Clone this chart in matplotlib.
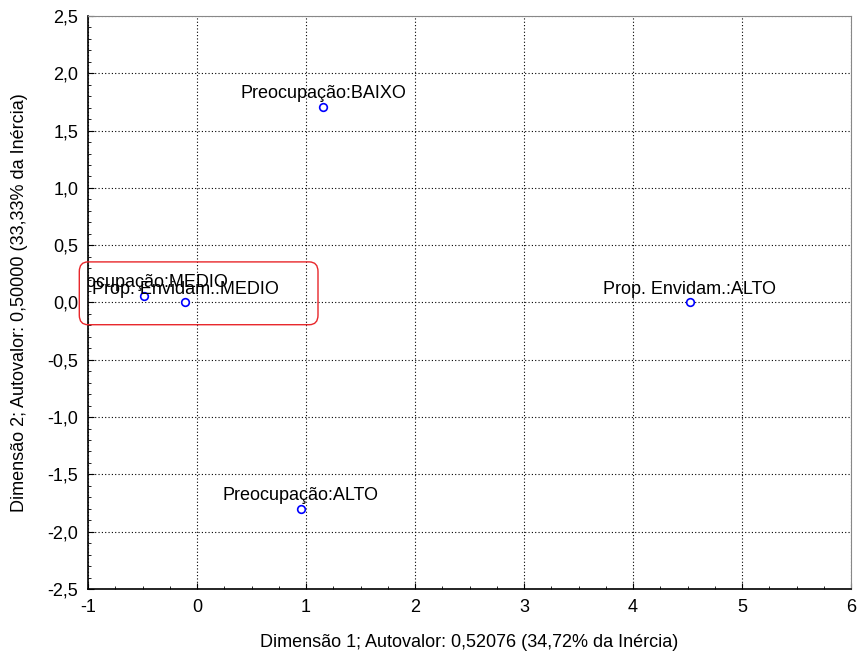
import numpy as np
import matplotlib
matplotlib.use('Agg')
import matplotlib.pyplot as plt
from matplotlib.patches import FancyBboxPatch
from matplotlib.ticker import MultipleLocator, FuncFormatter

# category coordinates
labels = ['Preocupação:BAIXO', 'Preocupação:MEDIO', 'Preocupação:ALTO',
          'Prop. Envidam.:MEDIO', 'Prop. Envidam.:ALTO']
dim1 = [1.16, -0.49, 0.95, -0.11, 4.52]
dim2 = [1.705, 0.06, -1.80, 0.0, 0.0]

plt.rcParams['font.family'] = ['Liberation Sans', 'DejaVu Sans']

fig = plt.figure(figsize=(8.57, 6.55), dpi=100)
ax = fig.add_axes([0.1027, 0.1008, 0.8903, 0.8748])

ax.plot(dim1, dim2, linestyle='none', marker='o', markersize=5.5,
        markerfacecolor='white', markeredgecolor='#0000ff', markeredgewidth=1.2, zorder=3)

for lab, x, y in zip(labels, dim1, dim2):
    ax.annotate(lab, (x, y), xytext=(0, 3.5), textcoords='offset points',
                ha='center', va='bottom', fontsize=13, color='black',
                annotation_clip=False, clip_on=True)

ax.set_xlim(-1, 6)
ax.set_ylim(-2.5, 2.5)
ax.xaxis.set_major_locator(MultipleLocator(1))
ax.xaxis.set_minor_locator(MultipleLocator(0.25))
ax.yaxis.set_major_locator(MultipleLocator(0.5))
ax.yaxis.set_minor_locator(MultipleLocator(0.1))
ax.yaxis.set_major_formatter(FuncFormatter(lambda v, p: '{:.1f}'.format(v).replace('.', ',')))
ax.xaxis.set_major_formatter(FuncFormatter(lambda v, p: '{:.0f}'.format(v)))

ax.tick_params(which='both', direction='in', labelsize=13)
ax.tick_params(which='major', length=4, pad=7)
ax.tick_params(which='minor', length=2.5)
ax.grid(True, which='major', color='black', linestyle=(0, (1, 2)), linewidth=0.8)

for side in ['top', 'right']:
    ax.spines[side].set_color('#888888')
for side in ['left', 'bottom']:
    ax.spines[side].set_linewidth(1.2)

ax.set_xlabel('Dimensão 1; Autovalor: 0,52076 (34,72% da Inércia)', fontsize=13, labelpad=13)
ax.set_ylabel('Dimensão 2; Autovalor: 0,50000 (33,33% da Inércia)', fontsize=13, labelpad=14)

# red highlight around the overlapping MEDIO labels
box = FancyBboxPatch((-1.0, -0.11), 2.03, 0.38, boxstyle='round,pad=0.08,rounding_size=0.08',
                     transform=ax.transData, fill=False, edgecolor='#e8262a',
                     linewidth=1.0, clip_on=False, zorder=4, mutation_aspect=1.05)
ax.add_patch(box)

fig.savefig('out.png', dpi=100)
